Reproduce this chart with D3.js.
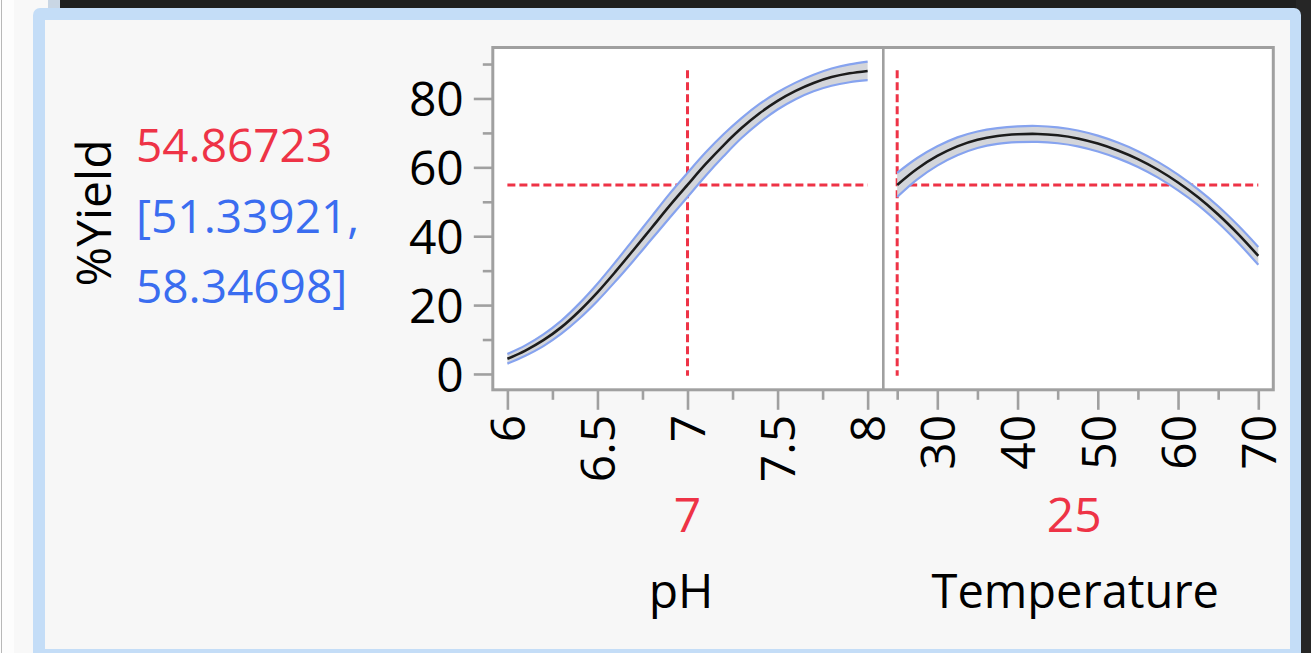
<!DOCTYPE html>
<html>
<head>
<meta charset="utf-8">
<script src="https://cdn.jsdelivr.net/npm/d3@7"></script>
<style>
  html, body { margin: 0; padding: 0; background: #fafafa; overflow: hidden; }
  text { font-family: "Open Sans", "Noto Sans", sans-serif; }
</style>
</head>
<body>
<svg id="profiler"></svg>
<script>
const width = 1311;
const height = 653;

// Prediction profiler data
const yieldLabel = "%Yield";
const predicted = "54.86723";
const ciLow = "[51.33921,";
const ciHigh = "58.34698]";

const phX = [6.0, 6.1, 6.2, 6.3, 6.4, 6.5, 6.6, 6.7, 6.8, 6.9, 7.0, 7.1, 7.2, 7.3, 7.4, 7.5, 7.6, 7.7, 7.8, 7.9, 8.0];
const phYield = [4.4, 6.8, 9.8, 13.6, 18.3, 23.7, 29.7, 36.0, 42.4, 48.8, 54.9, 60.9, 66.4, 71.4, 75.7, 79.3, 82.2, 84.5, 86.2, 87.3, 88.0];
const phHalfCI = [1.4, 1.5, 1.7, 1.9, 2.2, 2.5, 2.8, 3.1, 3.3, 3.5, 3.5, 3.4, 3.2, 2.9, 2.7, 2.5, 2.4, 2.4, 2.5, 2.6, 2.7];

const tempX = [25, 27.5, 30, 32.5, 35, 37.5, 40, 42.5, 45, 47.5, 50, 52.5, 55, 57.5, 60, 62.5, 65, 67.5, 70];
const tempYield = [54.9, 59.6, 63.3, 66.1, 68.0, 69.1, 69.6, 69.7, 69.3, 68.4, 66.9, 64.9, 62.4, 59.3, 55.6, 51.3, 46.3, 40.6, 34.3];
const tempHalfCI = [3.5, 3.1, 2.8, 2.6, 2.4, 2.3, 2.3, 2.3, 2.3, 2.3, 2.3, 2.3, 2.3, 2.3, 2.3, 2.3, 2.4, 2.5, 2.6];

const yMajor = [0, 20, 40, 60, 80];
const yMinor = [10, 30, 50, 70, 90];
const phMajor = [6, 6.5, 7, 7.5, 8];
const phMinor = [6.25, 6.75, 7.25, 7.75];
const tempMajor = [30, 40, 50, 60, 70];
const tempMinor = [25, 35, 45, 55, 65];

const phCurrent = 7;
const tempCurrent = 25;
const yCurrent = 54.86723;
const refTop = 88.2;   // vertical reference lines span
const refBottom = -0.5;

const red = "#ee3346";
const blue = "#3a6df0";
const frameGrey = "#a0a0a0";

var svg = d3.select("#profiler")
    .attr("width", width)
    .attr("height", height)
    .attr("viewBox", `0 0 ${width} ${height}`);

// Window chrome around the report
svg.append("rect").attr("x", 0).attr("y", 0).attr("width", width).attr("height", height).attr("fill", "#f8f8f8");
svg.append("rect").attr("x", 0).attr("y", 0).attr("width", 14).attr("height", height).attr("fill", "#fdfdfd");
svg.append("line").attr("x1", 1.5).attr("x2", 1.5).attr("y1", 0).attr("y2", height).attr("stroke", "#b8b8b8").attr("stroke-width", 1);
svg.append("rect").attr("x", 60).attr("y", 0).attr("width", width - 60).attr("height", 12).attr("fill", "#1f1f1f");
svg.append("rect").attr("x", 48).attr("y", 0).attr("width", 12).attr("height", 12).attr("fill", "#c9d6e4");
svg.append("rect").attr("x", 1296).attr("y", 0).attr("width", 15).attr("height", height).attr("fill", "#262626");
svg.append("rect")
    .attr("x", 33).attr("y", 8)
    .attr("width", 1268).attr("height", 660)
    .attr("rx", 7)
    .attr("fill", "#c4ddf7");
svg.append("rect")
    .attr("x", 45).attr("y", 20)
    .attr("width", 1245).attr("height", 629)
    .attr("fill", "#f7f7f7");

// Scales
var yScale = d3.scaleLinear().domain([-4.6, 94.8]).range([389.8, 47.5]);
var phScale = d3.scaleLinear().domain([5.919, 8.087]).range([492.8, 883.3]);
var tempScale = d3.scaleLinear().domain([23.27, 71.87]).range([883.3, 1273.3]);

const plotTop = yScale.range()[1];
const plotBottom = yScale.range()[0];

// Panel backgrounds
svg.append("rect")
    .attr("x", phScale.range()[0]).attr("y", plotTop)
    .attr("width", tempScale.range()[1] - phScale.range()[0])
    .attr("height", plotBottom - plotTop)
    .attr("fill", "#ffffff");

// Axes
function styleAxis(g) {
    g.select(".domain").remove();
    g.selectAll(".tick line").attr("stroke", frameGrey).attr("stroke-width", 2.6);
    g.selectAll(".tick text")
        .attr("fill", "#000")
        .style("font-size", "48px")
        .style("font-family", "'Open Sans', 'Noto Sans', sans-serif");
}

svg.append("g")
    .attr("transform", `translate(${phScale.range()[0]},0)`)
    .call(d3.axisLeft(yScale).tickValues(yMinor).tickSize(10).tickFormat(""))
    .call(styleAxis);

svg.append("g")
    .attr("transform", `translate(${phScale.range()[0]},0)`)
    .call(d3.axisLeft(yScale).tickValues(yMajor).tickSize(19).tickPadding(10).tickFormat(d3.format("d")))
    .call(styleAxis)
    .selectAll(".tick text").attr("dy", "0.36em");

function xAxis(scale, major, minor) {
    svg.append("g")
        .attr("transform", `translate(0,${plotBottom})`)
        .call(d3.axisBottom(scale).tickValues(minor).tickSize(10).tickFormat(""))
        .call(styleAxis);

    svg.append("g")
        .attr("transform", `translate(0,${plotBottom})`)
        .call(d3.axisBottom(scale).tickValues(major).tickSize(20).tickFormat(d3.format("")))
        .call(styleAxis)
        .selectAll(".tick text")
        .attr("transform", "rotate(-90)")
        .attr("text-anchor", "end")
        .attr("x", -25)
        .attr("y", 0)
        .attr("dy", "0.36em");
}
xAxis(phScale, phMajor, phMinor);
xAxis(tempScale, tempMajor, tempMinor);

// Confidence band + prediction trace for one factor
function drawTrace(xs, ys, hw, scale) {
    const pts = xs.map((x, i) => ({ x: x, y: ys[i], lo: ys[i] - hw[i], hi: ys[i] + hw[i] }));
    const curve = d3.curveCatmullRom.alpha(0.5);

    const area = d3.area()
        .x(d => scale(d.x))
        .y0(d => yScale(d.lo))
        .y1(d => yScale(d.hi))
        .curve(curve);

    svg.append("path")
        .datum(pts)
        .attr("d", area)
        .attr("fill", "#d3d5da");

    ["lo", "hi"].forEach(k => {
        svg.append("path")
            .datum(pts)
            .attr("d", d3.line().x(d => scale(d.x)).y(d => yScale(d[k])).curve(curve))
            .attr("fill", "none")
            .attr("stroke", "#86a3ef")
            .attr("stroke-width", 2.2);
    });

    svg.append("path")
        .datum(pts)
        .attr("d", d3.line().x(d => scale(d.x)).y(d => yScale(d.y)).curve(curve))
        .attr("fill", "none")
        .attr("stroke", "#1c1c1c")
        .attr("stroke-width", 2.6);
}

// Red dashed crosshairs
function drawRefLines(scale, xFrom, xTo, xCur) {
    svg.append("line")
        .attr("x1", scale(xFrom)).attr("x2", scale(xTo))
        .attr("y1", yScale(yCurrent)).attr("y2", yScale(yCurrent))
        .attr("stroke", red).attr("stroke-width", 3)
        .attr("stroke-dasharray", "8,4");
    svg.append("line")
        .attr("x1", scale(xCur)).attr("x2", scale(xCur))
        .attr("y1", yScale(refTop)).attr("y2", yScale(refBottom))
        .attr("stroke", red).attr("stroke-width", 3)
        .attr("stroke-dasharray", "8,4");
}

drawRefLines(phScale, phX[0], phX[phX.length - 1], phCurrent);
drawRefLines(tempScale, tempX[0], tempX[tempX.length - 1], tempCurrent);
drawTrace(phX, phYield, phHalfCI, phScale);
drawTrace(tempX, tempYield, tempHalfCI, tempScale);

// Frame of the two panels
svg.append("rect")
    .attr("x", phScale.range()[0]).attr("y", plotTop)
    .attr("width", tempScale.range()[1] - phScale.range()[0])
    .attr("height", plotBottom - plotTop)
    .attr("fill", "none")
    .attr("stroke", frameGrey)
    .attr("stroke-width", 3);
svg.append("line")
    .attr("x1", tempScale.range()[0]).attr("x2", tempScale.range()[0])
    .attr("y1", plotTop).attr("y2", plotBottom)
    .attr("stroke", frameGrey)
    .attr("stroke-width", 2.6);

// Response label and prediction text
svg.append("text")
    .attr("transform", "translate(111,213) rotate(-90)")
    .attr("text-anchor", "middle")
    .style("font-size", "48px")
    .attr("fill", "#000")
    .text(yieldLabel);

svg.append("text").attr("x", 136).attr("y", 162).style("font-size", "46px").attr("fill", red).text(predicted);
svg.append("text").attr("x", 136).attr("y", 233).style("font-size", "46px").attr("fill", blue).text(ciLow);
svg.append("text").attr("x", 136).attr("y", 303).style("font-size", "46px").attr("fill", blue).text(ciHigh);

// Current factor settings and factor names
const phMid = (phScale.range()[0] + phScale.range()[1]) / 2;
const tempMid = (tempScale.range()[0] + tempScale.range()[1]) / 2;

svg.append("text").attr("x", phScale(phCurrent)).attr("y", 532).attr("text-anchor", "middle")
    .style("font-size", "48px").attr("fill", red).text(String(phCurrent));
svg.append("text").attr("x", tempMid - 4).attr("y", 532).attr("text-anchor", "middle")
    .style("font-size", "48px").attr("fill", red).text(String(tempCurrent));

svg.append("text").attr("x", phMid - 7).attr("y", 608).attr("text-anchor", "middle")
    .style("font-size", "48px").attr("fill", "#000").text("pH");
svg.append("text").attr("x", tempMid - 3).attr("y", 608).attr("text-anchor", "middle")
    .style("font-size", "47px").attr("fill", "#000").text("Temperature");
</script>
</body>
</html>
